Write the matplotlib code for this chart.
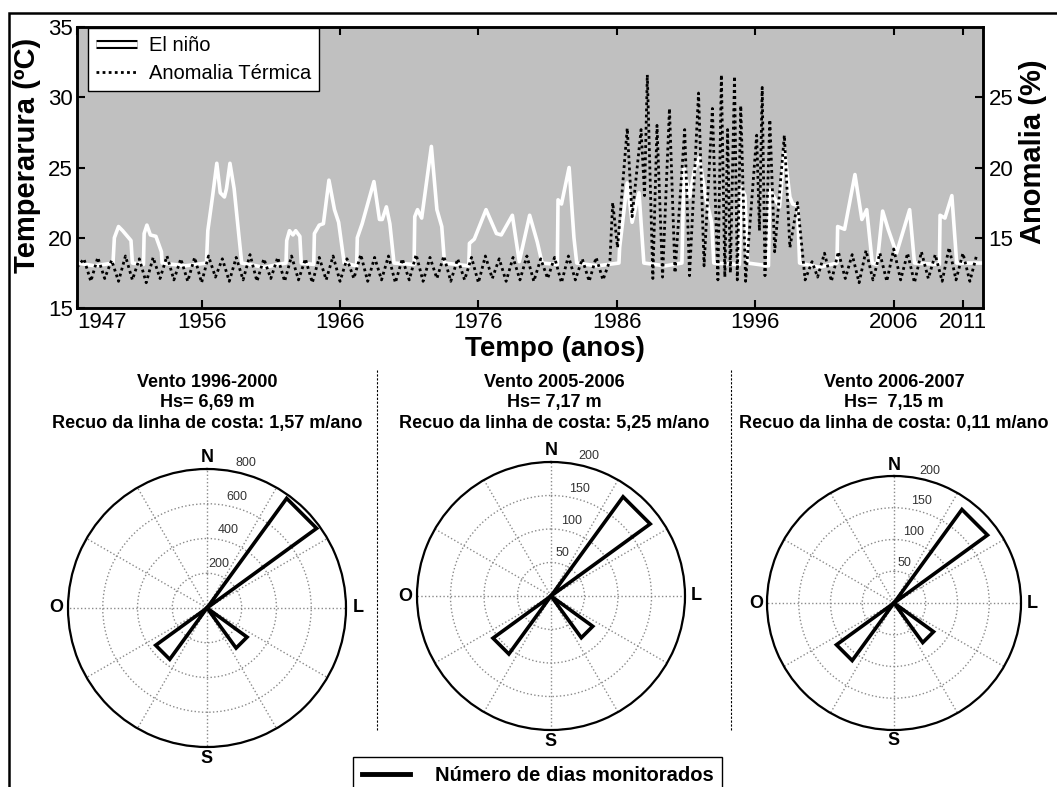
import numpy as np
import matplotlib
matplotlib.use("Agg")
import matplotlib.pyplot as plt
import matplotlib.patheffects as pe
from matplotlib.lines import Line2D
from matplotlib.patches import Rectangle

plt.rcParams['font.family'] = ['Liberation Sans', 'DejaVu Sans']

# ---------------- data ----------------
year_ticks = [1947, 1956, 1966, 1976, 1986, 1996, 2006, 2011]
temp_ticks = [15, 20, 25, 30, 35]
anom_ticks = [15, 20, 25]
legend_labels = ["El niño", "Anomalia Térmica"]

# El Niño temperature (white line), turning points (ºC)
el_nino_t = [1947.0, 1948.3, 1949.6, 1949.7, 1950.0, 1950.3, 1950.9, 1951.0, 1951.8, 1951.85,
             1952.05, 1952.3, 1952.7, 1953.1, 1953.15, 1954.8, 1956.35, 1956.45, 1956.8, 1957.1,
             1957.35, 1957.65, 1957.8, 1958.05, 1958.35, 1958.7, 1958.9, 1960.5, 1962.1, 1962.15,
             1962.35, 1962.6, 1962.8, 1963.1, 1963.2, 1964.1, 1964.15, 1964.5, 1964.8, 1965.2,
             1965.6, 1965.9, 1966.3, 1967.2, 1967.25, 1967.6, 1968.45, 1968.85, 1969.05, 1969.35,
             1969.6, 1969.9, 1971.35, 1971.4, 1971.6, 1971.9, 1972.6, 1973.0, 1973.35, 1973.55,
             1975.3, 1975.35, 1975.7, 1976.55, 1977.3, 1977.65, 1978.45, 1978.95, 1979.7, 1980.25,
             1980.6, 1981.7, 1981.75, 1982.0, 1982.55, 1982.9, 1983.1, 1984.6, 1986.15, 1986.2,
             1986.75, 1987.1, 1987.6, 1987.95, 1989.5, 1990.7, 1990.85, 1991.25, 1991.6, 1991.95,
             1992.45, 1992.85, 1993.0, 1994.85, 1995.0, 1995.25, 1995.45, 1996.95, 1997.05, 1997.75,
             1998.1, 1998.5, 1998.7, 1999.05, 1999.2, 2000.6, 2001.9, 2001.95, 2002.45, 2003.2,
             2003.7, 2004.05, 2004.45, 2004.8, 2005.2, 2005.6, 2006.2, 2007.15, 2007.5, 2009.3,
             2009.35, 2009.7, 2010.2, 2010.55, 2012.45]
el_nino_v = [18.2, 18.0, 18.2, 20.0, 20.8, 20.5, 19.8, 18.2, 18.1, 20.3,
             20.9, 20.2, 20.1, 19.0, 18.2, 18.0, 18.2, 20.5, 23.0, 25.3,
             23.2, 22.9, 23.5, 25.3, 23.5, 20.1, 18.2, 17.9, 18.2, 19.8,
             20.5, 20.2, 20.5, 20.1, 18.2, 18.1, 20.3, 20.9, 21.0, 24.1,
             22.0, 21.1, 18.2, 18.0, 20.0, 21.0, 24.0, 21.3, 21.3, 22.2,
             21.0, 18.2, 18.1, 21.5, 22.0, 21.4, 26.5, 22.0, 20.8, 18.2,
             18.0, 19.6, 19.9, 22.0, 20.3, 20.2, 21.6, 18.3, 21.6, 19.7,
             18.2, 18.1, 22.7, 22.4, 25.0, 20.0, 18.2, 18.0, 18.2, 19.3,
             23.9, 21.1, 23.2, 18.2, 18.0, 18.2, 25.0, 22.9, 24.8, 25.7,
             22.7, 21.1, 18.2, 18.1, 23.6, 23.0, 18.2, 18.0, 23.4, 22.2,
             26.2, 22.9, 22.4, 22.3, 18.2, 17.9, 18.2, 20.8, 20.6, 24.5,
             21.3, 22.0, 18.2, 18.1, 21.9, 20.6, 18.9, 22.0, 18.2, 18.1,
             21.6, 21.4, 23.0, 18.2, 18.2]

# Thermal anomaly (dotted line, %), half-yearly peaks/troughs 1947.0-1985.0
anom_early = [12.9, 13.5, 11.9, 13.6, 12.1, 13.4, 11.9, 13.7, 12.0, 13.5, 11.8,
              13.6, 12.1, 13.7, 12.0, 13.5, 11.9, 13.6, 11.8, 13.7, 12.2, 13.5,
              11.9, 13.6, 12.0, 13.8, 11.9, 13.5, 12.1, 13.6, 11.9, 13.7, 12.0,
              13.5, 11.8, 13.6, 12.0, 13.7, 11.9, 13.5, 12.1, 13.8, 11.9, 13.6,
              12.0, 13.7, 11.8, 13.5, 12.0, 13.8, 11.9, 13.6, 12.1, 13.7, 11.9,
              13.5, 12.0, 13.6, 11.8, 13.7, 12.1, 13.5, 11.9, 13.6, 12.0, 13.7,
              11.9, 13.5, 12.1, 13.6, 11.8, 13.7, 12.0, 13.5, 11.9, 13.6, 12.0]
# strong-anomaly period, turning points
anom_active_t = [1985.5, 1985.7, 1986.05, 1986.75, 1987.1, 1987.75, 1988.0, 1988.2, 1988.6, 1988.9,
                 1989.3, 1989.8, 1990.2, 1990.9, 1991.25, 1991.9, 1992.3, 1992.9, 1993.3, 1993.55,
                 1993.8, 1994.0, 1994.2, 1994.5, 1994.7, 1994.95, 1995.3, 1996.1, 1996.3, 1996.5,
                 1996.7, 1997.05, 1997.4, 1998.1, 1998.5, 1999.05, 1999.6, 2000.1]
anom_active_v = [13.4, 17.5, 14.3, 22.8, 16.5, 22.7, 18.0, 26.6, 12.1, 23.0,
                 12.2, 24.2, 12.5, 22.7, 12.3, 25.3, 13.0, 24.2, 12.0, 26.6,
                 12.2, 22.7, 12.5, 26.5, 12.0, 24.4, 11.9, 22.3, 15.5, 25.7,
                 12.3, 23.4, 14.0, 22.3, 14.3, 17.5, 12.0, 13.3]
# half-yearly peaks/troughs 2000.5-2012.0
anom_late = [12.2, 13.9, 11.9, 14.0, 12.1, 13.8, 11.8, 14.1, 12.0, 13.9, 11.9, 14.2,
             12.0, 13.9, 11.8, 14.0, 12.1, 13.8, 11.9, 14.3, 12.0, 13.9, 11.9, 13.8]

# Wind roses
rose_title1 = ["Vento 1996-2000", "Vento 2005-2006", "Vento 2006-2007"]
rose_title2 = ["Hs= 6,69 m", "Hs= 7,17 m", "Hs=  7,15 m"]
rose_title3 = ["Recuo da linha de costa: 1,57 m/ano",
               "Recuo da linha de costa: 5,25 m/ano",
               "Recuo da linha de costa: 0,11 m/ano"]
rose_rmax = [800, 200, 200]
rose_rticks = [[200, 400, 600, 800], [50, 100, 150, 200], [50, 100, 150, 200]]
rose_bin_start = [36, 126, 216]   # degrees clockwise from N
rose_bin_width = 18
rose_counts = [[780, 285, 365], [183, 77, 107], [182, 77, 112]]
compass = [(0, "N"), (90, "L"), (180, "S"), (270, "O")]
bottom_label = "Número de dias monitorados"

# ---------------- figure ----------------
W, H = 1057, 787
fig = plt.figure(figsize=(W / 100, H / 100), dpi=100)


def fx(px):
    return px / W


def fy(py):
    return 1 - py / H


# top time series
ax = fig.add_axes([fx(77), fy(308), fx(983) - fx(77), fy(27) - fy(308)])
ax.set_facecolor('#c0c0c0')
ax.plot(el_nino_t, el_nino_v, color='white', lw=2.6, zorder=2)
ax.set_xlim(1947, 2012.45)
ax.set_ylim(15, 35)
ax.set_yticks(temp_ticks)
ax.set_xticks(year_ticks)
ax.set_xticklabels([str(y) for y in year_ticks])
ax.get_xticklabels()[0].set_horizontalalignment('left')
ax.tick_params(direction='in', length=6, width=1.5, labelsize=16, top=True, pad=3)
for s in ax.spines.values():
    s.set_linewidth(1.8)

anom_t = list(1947.0 + 0.5 * np.arange(len(anom_early))) + anom_active_t + \
    list(2000.5 + 0.5 * np.arange(len(anom_late)))
anom_v = anom_early + anom_active_v + anom_late

ax2 = ax.twinx()
ax2.plot(anom_t, anom_v, color='black', lw=2.0, linestyle=(0, (1, 1.2)))
ax2.set_ylim(10, 30)
ax2.set_yticks(anom_ticks)
ax2.tick_params(direction='in', length=6, width=1.5, labelsize=16, pad=4)
for s in ax2.spines.values():
    s.set_linewidth(1.8)

h_el = Line2D([], [], color='white', lw=3.5, solid_capstyle='butt',
              path_effects=[pe.Stroke(linewidth=6.5, foreground='black'), pe.Normal()])
h_an = Line2D([], [], color='black', lw=2.0, linestyle=(0, (1, 1.2)))
leg = ax2.legend([h_el, h_an], legend_labels, loc='upper left', bbox_to_anchor=(0.0125, 0.998),
                 fontsize=14.5, frameon=True, fancybox=False, edgecolor='black', framealpha=1,
                 borderpad=0.4, handlelength=2.0, handletextpad=0.6, labelspacing=0.45,
                 borderaxespad=0)
leg.get_frame().set_linewidth(1.0)

fig.text(fx(27), fy(155), "Temperarura (ºC)", rotation=90, ha='center', va='center',
         fontsize=21, fontweight='bold')
fig.text(fx(555), fy(349), "Tempo (anos)", ha='center', va='center',
         fontsize=20, fontweight='bold')
fig.text(fx(1033), fy(152), "Anomalia (%)", rotation=90, ha='center', va='center',
         fontsize=21, fontweight='bold')

# wind roses
centers = [(207, 608), (551, 596), (894, 603)]
radii = [139, 134, 127]
title_x = [207, 554, 894]
for i in range(3):
    cx, cy = centers[i]
    r = radii[i]
    rmax = rose_rmax[i]
    pax = fig.add_axes([fx(cx - r), fy(cy + r), 2 * r / W, 2 * r / H], projection='polar')
    pax.set_theta_zero_location('N')
    pax.set_theta_direction(-1)
    pax.set_rlim(0, rmax)
    pax.set_rgrids(rose_rticks[i], labels=[''] * len(rose_rticks[i]))
    pax.set_thetagrids(np.arange(0, 360, 30), labels=[''] * 12)
    pax.grid(True, linestyle=':', color='#8a8a8a', lw=1.0)
    pax.spines['polar'].set_linewidth(1.6)
    for start, cnt in zip(rose_bin_start, rose_counts[i]):
        th1 = np.deg2rad(start)
        th2 = np.deg2rad(start + rose_bin_width)
        pax.plot([0, th1, th2, 0], [0, cnt, cnt, 0], color='black', lw=2.6,
                 solid_joinstyle='miter', clip_on=False, zorder=3)
    for t in rose_rticks[i]:
        pax.text(np.deg2rad(15), t + 0.08 * rmax, str(t), fontsize=9, color='#333333',
                 ha='center', va='center', clip_on=False)
    for ang, lab in compass:
        pax.text(np.deg2rad(ang), 1.085 * rmax, lab, fontsize=13, fontweight='bold',
                 ha='center', va='center', clip_on=False)
    fig.text(fx(title_x[i]), fy(383), rose_title1[i], ha='center', va='center',
             fontsize=13, fontweight='bold')
    fig.text(fx(title_x[i]), fy(403), rose_title2[i], ha='center', va='center',
             fontsize=13, fontweight='bold')
    fig.text(fx(title_x[i]), fy(424), rose_title3[i], ha='center', va='center',
             fontsize=13, fontweight='bold')

# separators
for sx in (377, 731):
    fig.add_artist(Line2D([fx(sx), fx(sx)], [fy(370), fy(730)], color='black', lw=0.8,
                          linestyle=(0, (2, 1.5))))

# outer border (top and left edges)
fig.add_artist(Rectangle((fx(9), -0.05), 1.2, fy(13) + 0.05, fill=False, edgecolor='black',
                         lw=1.8, transform=fig.transFigure))

# bottom legend
fig.legend([Line2D([], [], color='black', lw=3.5)], [bottom_label], loc='upper left',
           bbox_to_anchor=(fx(353), fy(757)), prop=dict(weight='bold', size=14.5),
           fancybox=False, edgecolor='black', framealpha=1, handlelength=2.4,
           handletextpad=1.2, borderpad=0.45, borderaxespad=0)

fig.savefig("out.png", dpi=100)
